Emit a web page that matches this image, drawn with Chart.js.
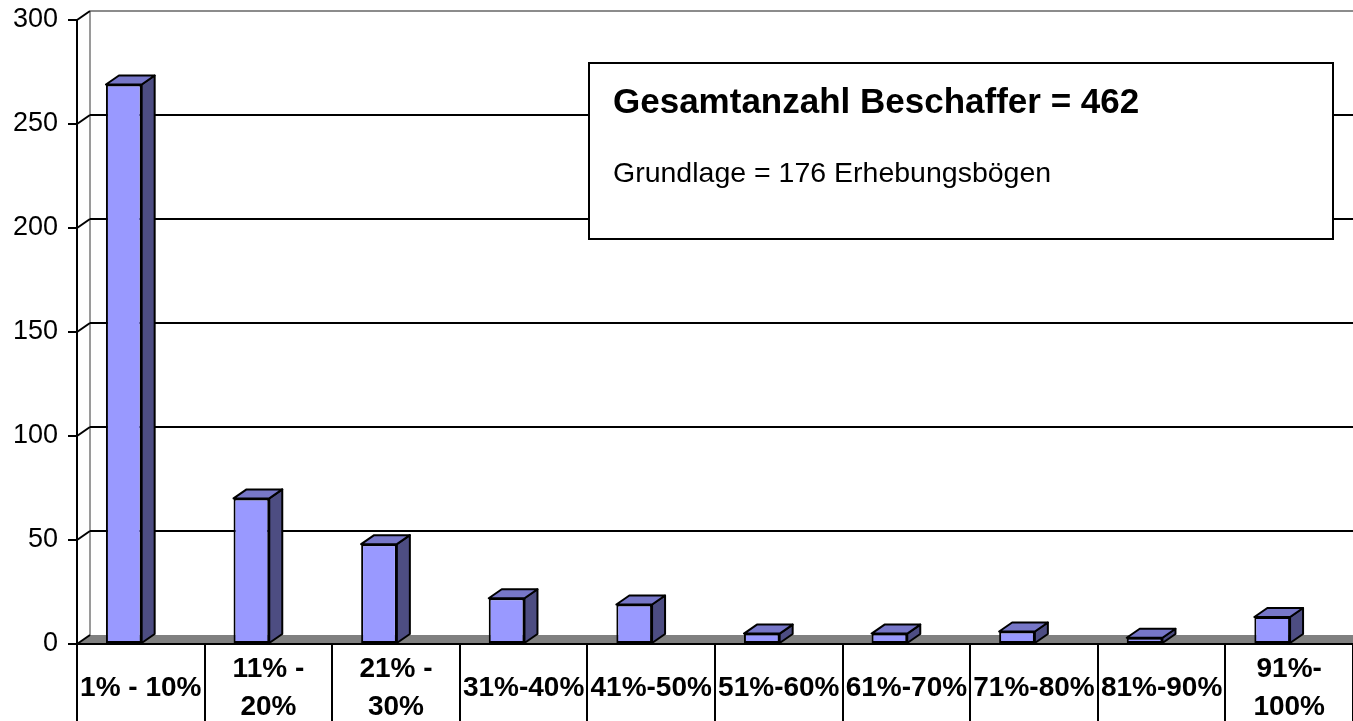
<!DOCTYPE html>
<html lang="de">
<head>
  <meta charset="UTF-8" />
  <title>Beschaffer</title>
  <style>
    body { margin: 0; background: #fff; }
    #chart-container { width: 1353px; height: 721px; }
  </style>
</head>
<body>
  <div id="chart-container">
    <canvas id="buyerChart"></canvas>
  </div>

  <script src="https://cdn.jsdelivr.net/npm/chart.js"></script>
  <script>
    // data
    const categories = ['1% - 10%', ['11% -', '20%'], ['21% -', '30%'], '31%-40%', '41%-50%',
                        '51%-60%', '61%-70%', '71%-80%', '81%-90%', ['91%-', '100%']];
    const counts = [269, 70, 48, 22, 19, 5, 5, 6, 3, 13];
    const yTickValues = [0, 50, 100, 150, 200, 250, 300];
    const boxTitle = 'Gesamtanzahl Beschaffer = 462';
    const boxText = 'Grundlage = 176 Erhebungsbögen';

    const FONT = 'Arial, "Liberation Sans", sans-serif';
    const DX = 13, DY = -9;     // 3d depth
    const SHIFT = -17;          // bars sit left of the label box centre

    function line(ctx, x1, y1, x2, y2) {
      ctx.beginPath(); ctx.moveTo(x1, y1); ctx.lineTo(x2, y2); ctx.stroke();
    }
    function poly(ctx, pts, fill) {
      ctx.beginPath();
      ctx.moveTo(pts[0][0], pts[0][1]);
      for (let i = 1; i < pts.length; i++) ctx.lineTo(pts[i][0], pts[i][1]);
      ctx.closePath();
      ctx.fillStyle = fill;
      ctx.fill();
      ctx.stroke();
    }

    const wall3d = {
      id: 'wall3d',
      beforeDatasetsDraw(chart) {
        const { ctx, chartArea: a, scales: { y } } = chart;
        const y0 = y.getPixelForValue(0);
        ctx.save();
        ctx.lineWidth = 2;

        // floor
        ctx.fillStyle = '#808080';
        ctx.beginPath();
        ctx.moveTo(a.left + 1, y0);
        ctx.lineTo(a.left + DX, y0 + DY);
        ctx.lineTo(a.right, y0 + DY);
        ctx.lineTo(a.right, y0);
        ctx.closePath();
        ctx.fill();

        // back wall left edge
        ctx.strokeStyle = '#9a9a9a';
        line(ctx, a.left + DX, y.getPixelForValue(y.max) + DY, a.left + DX, y0 + DY);

        // gridlines on the back wall + connectors to the front axis
        y.ticks.forEach(t => {
          const py = y.getPixelForValue(t.value);
          if (t.value > 0) {
            ctx.strokeStyle = t.value === y.max ? '#8c8c8c' : '#000';
            line(ctx, a.left + DX, py + DY, a.right, py + DY);
          }
          ctx.strokeStyle = '#000';
          line(ctx, a.left, py, a.left + DX, py + DY);
        });

        // front edge of the floor
        ctx.strokeStyle = '#000';
        line(ctx, a.left, y0, a.right, y0);
        ctx.restore();

        ctx.save();
        ctx.translate(SHIFT, 0);
      },
      afterDatasetsDraw(chart) {
        const ctx = chart.ctx;
        ctx.strokeStyle = '#000';
        ctx.lineWidth = 2;
        ctx.lineJoin = 'round';
        chart.getDatasetMeta(0).data.forEach(bar => {
          const { x, y, base, width } = bar.getProps(['x', 'y', 'base', 'width'], true);
          const l = x - width / 2, r = x + width / 2;
          // side
          poly(ctx, [[r, y], [r + DX, y + DY], [r + DX, base + DY], [r, base]], '#4d4d82');
          // top
          poly(ctx, [[l, y], [l + DX, y + DY], [r + DX, y + DY], [r, y]], '#7777c8');
        });
        ctx.restore();
      },
      afterDraw(chart) {
        const ctx = chart.ctx;
        const bx = 589, by = 63, bw = 744, bh = 176;
        ctx.save();
        ctx.fillStyle = '#fff';
        ctx.fillRect(bx, by, bw, bh);
        ctx.strokeStyle = '#000';
        ctx.lineWidth = 2;
        ctx.strokeRect(bx, by, bw, bh);
        ctx.fillStyle = '#000';
        ctx.textBaseline = 'alphabetic';
        ctx.font = 'bold 35px ' + FONT;
        ctx.fillText(boxTitle, bx + 24, by + 50);
        ctx.font = '28.5px ' + FONT;
        ctx.fillText(boxText, bx + 24, by + 119);
        ctx.restore();
      }
    };

    const ctx = document.getElementById('buyerChart').getContext('2d');
    new Chart(ctx, {
      type: 'bar',
      data: {
        labels: categories,
        datasets: [{
          data: counts,
          backgroundColor: '#9999ff',
          borderColor: '#000',
          borderWidth: 2,
          borderSkipped: false,
          barPercentage: 0.28,
          categoryPercentage: 1
        }]
      },
      options: {
        responsive: true,
        maintainAspectRatio: false,
        animation: false,
        layout: { padding: { top: 20, right: 0, bottom: 0, left: 0 } },
        plugins: {
          legend: { display: false },
          tooltip: { enabled: false }
        },
        scales: {
          x: {
            afterFit: s => { s.height = 77; },
            border: { display: false },
            grid: {
              drawOnChartArea: false,
              drawTicks: true,
              tickLength: 77,
              color: '#000',
              lineWidth: 2
            },
            ticks: {
              autoSkip: false,
              maxRotation: 0,
              minRotation: 0,
              crossAlign: 'center',
              padding: -52,
              color: '#000',
              font: { family: FONT, size: 28, weight: 'bold', lineHeight: 1.35 }
            }
          },
          y: {
            min: 0,
            max: 300,
            afterFit: s => { s.width = 77; s.paddingTop = 0; s.paddingBottom = 0; },
            afterBuildTicks: s => { s.ticks = yTickValues.map(v => ({ value: v })); },
            border: { display: true, color: '#000', width: 2 },
            grid: {
              drawOnChartArea: false,
              drawTicks: true,
              tickLength: 9,
              color: '#000',
              lineWidth: 2
            },
            ticks: {
              padding: 10,
              color: '#000',
              font: { family: FONT, size: 27 }
            }
          }
        }
      },
      plugins: [wall3d]
    });
  </script>
</body>
</html>
